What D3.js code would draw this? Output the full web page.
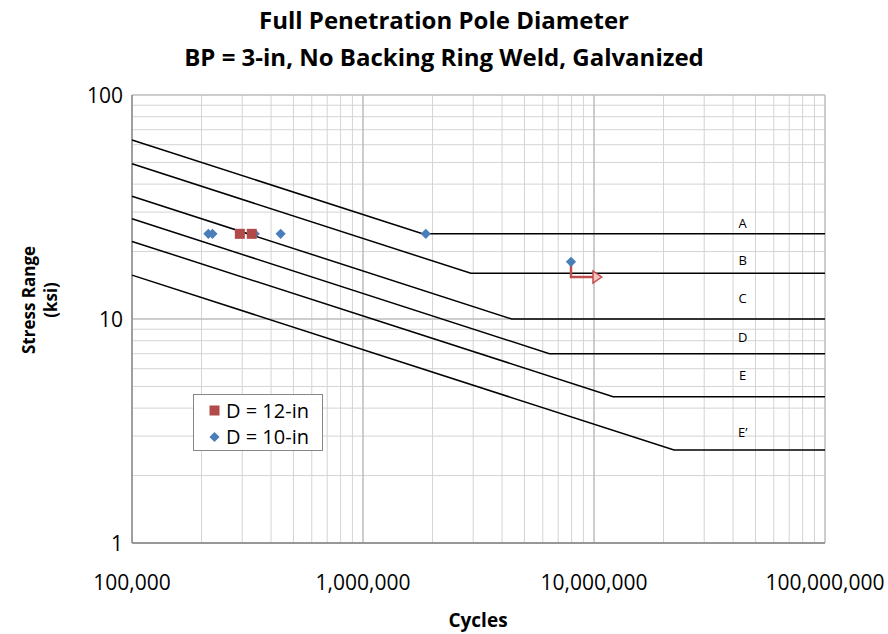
<!DOCTYPE html>
<html>
<head>
<meta charset="utf-8">
<title>Full Penetration Pole Diameter</title>
<style>
  body { margin: 0; padding: 0; background: #fff; }
  text { font-family: "Open Sans", "Liberation Sans", sans-serif; fill: #000; }
</style>
</head>
<body>
<svg width="888" height="634"></svg>
<script src="https://cdn.jsdelivr.net/npm/d3@7/dist/d3.min.js"></script>
<script>

// fatigue category lines: [cycles, stress]
var categories = ["A", "B", "C", "D", "E", "E\u2019"]
var catLines = [
  [[1e5, 63], [1.81e6, 24], [1e8, 24]],
  [[1e5, 49.3], [2.93e6, 16], [1e8, 16]],
  [[1e5, 35.3], [4.4e6, 10], [1e8, 10]],
  [[1e5, 28], [6.41e6, 7], [1e8, 7]],
  [[1e5, 22.2], [1.21e7, 4.5], [1e8, 4.5]],
  [[1e5, 15.7], [2.22e7, 2.6], [1e8, 2.6]]
]
var catLabelN = 4.4e7
var catLabelS = [26.8, 18.3, 12.4, 8.3, 5.6, 3.13]

var d12 = [[2.93e5, 24], [3.3e5, 24]]
var d10 = [[2.14e5, 24], [2.23e5, 24], [3.4e5, 24], [4.4e5, 24], [1.87e6, 24], [7.95e6, 18]]

// run-out arrow from the last 10-in point
var runout = [[7.95e6, 18], [7.95e6, 15.4], [9.9e6, 15.4]]
var runoutTip = 1.08e7

var xTicks = [1e5, 1e6, 1e7, 1e8]
var yTicks = [1, 10, 100]

var svg = d3.select("svg")
var pl = 132, pr = 825, pt = 95, pb = 543

var x = d3.scaleLog().domain([1e5, 1e8]).range([pl, pr])
var y = d3.scaleLog().domain([1, 100]).range([pb, pt])

// minor grid
var minorX = [], minorY = []
for (var dec = 1e5; dec < 1e8; dec *= 10)
  for (var k = 2; k < 10; k++) minorX.push(dec * k)
for (var dec = 1; dec < 100; dec *= 10)
  for (var k = 2; k < 10; k++) minorY.push(dec * k)

var grid = svg.append("g")
grid.selectAll("line.mx").data(minorX).enter().append("line")
  .attr("x1", d => x(d)).attr("x2", d => x(d))
  .attr("y1", pt).attr("y2", pb)
  .style("stroke", "#d4d4d4").style("stroke-width", 1)
grid.selectAll("line.my").data(minorY).enter().append("line")
  .attr("y1", d => y(d)).attr("y2", d => y(d))
  .attr("x1", pl).attr("x2", pr)
  .style("stroke", "#d4d4d4").style("stroke-width", 1)
grid.selectAll("line.Mx").data(xTicks).enter().append("line")
  .attr("x1", d => x(d)).attr("x2", d => x(d))
  .attr("y1", pt).attr("y2", pb)
  .style("stroke", "#bcbcbc").style("stroke-width", 1.5)
grid.selectAll("line.My").data(yTicks).enter().append("line")
  .attr("y1", d => y(d)).attr("y2", d => y(d))
  .attr("x1", pl).attr("x2", pr)
  .style("stroke", "#bcbcbc").style("stroke-width", 1.5)

// axes border
svg.append("line").attr("x1", pl).attr("x2", pl).attr("y1", pt).attr("y2", pb)
  .style("stroke", "#868686").style("stroke-width", 1.3)
svg.append("line").attr("x1", pl).attr("x2", pr).attr("y1", pb).attr("y2", pb)
  .style("stroke", "#868686").style("stroke-width", 1.3)

// tick labels
svg.selectAll("text.xt").data(xTicks).enter().append("text")
  .attr("x", d => x(d)).attr("y", 590)
  .style("text-anchor", "middle").style("font-size", "21px")
  .text(d => d3.format(",")(d))
svg.selectAll("text.yt").data(yTicks).enter().append("text")
  .attr("x", 123).attr("y", d => y(d) + 8)
  .style("text-anchor", "end").style("font-size", "21px")
  .text(d => d)

// category lines
var line = d3.line().x(d => x(d[0])).y(d => y(d[1]))
svg.selectAll("path.cat").data(catLines).enter().append("path")
  .attr("d", line)
  .style("fill", "none").style("stroke", "#000").style("stroke-width", 1.5)

svg.selectAll("text.cat").data(categories).enter().append("text")
  .attr("x", x(catLabelN)).attr("y", (d, i) => y(catLabelS[i]) + 5)
  .style("text-anchor", "middle").style("font-size", "13px")
  .text(d => d)

// run-out arrow
svg.append("path").attr("d", line(runout))
  .style("fill", "none").style("stroke", "#c0504d").style("stroke-width", 2.5)
var ay = y(runout[2][1]), ax = x(runout[2][0])
svg.append("path")
  .attr("d", "M" + ax + "," + (ay - 6) + "L" + x(runoutTip) + "," + ay + "L" + ax + "," + (ay + 6) + "Z")
  .style("fill", "#f4c2c1").style("stroke", "#c0504d").style("stroke-width", 1.5)

// markers
var diamond = d3.symbol().type(d3.symbolDiamond2).size(66)
svg.selectAll("path.d10").data(d10).enter().append("path")
  .attr("d", diamond)
  .attr("transform", d => "translate(" + x(d[0]) + "," + y(d[1]) + ")")
  .style("fill", "#4a7ebb")
svg.selectAll("rect.d12").data(d12).enter().append("rect")
  .attr("x", d => x(d[0]) - 5).attr("y", d => y(d[1]) - 5)
  .attr("width", 10).attr("height", 10)
  .style("fill", "#b14a48")

// legend
var lg = svg.append("g")
lg.append("rect").attr("x", 193.5).attr("y", 394.5).attr("width", 129).attr("height", 56)
  .style("fill", "#fff").style("stroke", "#868686").style("stroke-width", 1)
lg.append("rect").attr("x", 209.5).attr("y", 405.5).attr("width", 10).attr("height", 10)
  .style("fill", "#b14a48")
lg.append("path").attr("d", diamond).attr("transform", "translate(214.5,437)")
  .style("fill", "#4a7ebb")
lg.append("text").attr("x", 226).attr("y", 418).style("font-size", "20px").text("D = 12-in")
lg.append("text").attr("x", 226).attr("y", 444).style("font-size", "20px").text("D = 10-in")

// titles
svg.append("text").attr("x", 444).attr("y", 29)
  .style("text-anchor", "middle").style("font-size", "24px").style("font-weight", "bold")
  .text("Full Penetration Pole Diameter")
svg.append("text").attr("x", 444).attr("y", 66)
  .style("text-anchor", "middle").style("font-size", "24px").style("font-weight", "bold")
  .text("BP = 3-in, No Backing Ring Weld, Galvanized")
svg.append("text").attr("x", 478).attr("y", 627)
  .style("text-anchor", "middle").style("font-size", "19px").style("font-weight", "bold")
  .text("Cycles")
svg.append("text").attr("transform", "translate(35,300) rotate(-90)")
  .style("text-anchor", "middle").style("font-size", "17px").style("font-weight", "bold")
  .text("Stress Range")
svg.append("text").attr("transform", "translate(57,300) rotate(-90)")
  .style("text-anchor", "middle").style("font-size", "17px").style("font-weight", "bold")
  .text("(ksi)")

</script>
</body>
</html>
